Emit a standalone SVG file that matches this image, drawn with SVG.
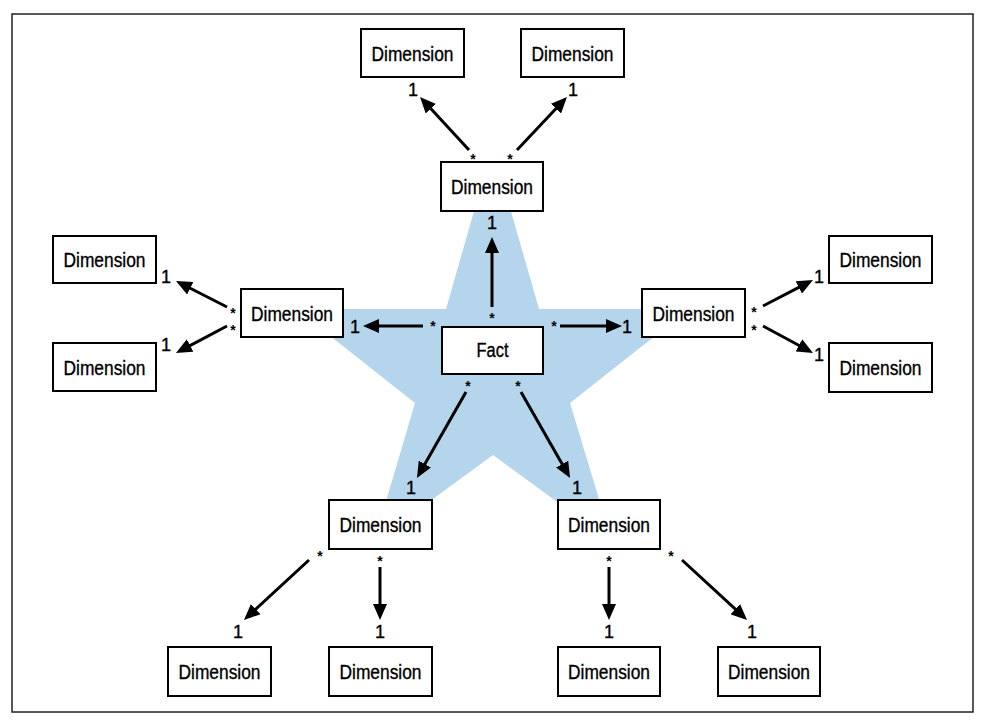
<svg xmlns="http://www.w3.org/2000/svg" width="984" height="725" viewBox="0 0 984 725">
<defs>
<style>
.box{fill:#fff;stroke:#000;stroke-width:2}
.lbl{font-family:"Liberation Sans",Arial,sans-serif;font-size:19.5px;fill:#000;stroke:#000;stroke-width:0.35;text-anchor:middle}
.one{font-family:"Liberation Sans",Arial,sans-serif;font-size:18px;fill:#000;stroke:#000;stroke-width:0.35;text-anchor:middle}
.star{font-family:"Liberation Sans",Arial,sans-serif;font-size:14px;font-weight:bold;fill:#000;text-anchor:middle}
.conn line{stroke:#000;stroke-width:3;marker-end:url(#ah)}
</style>
<marker id="ah" viewBox="0 0 16 14" refX="6" refY="7" markerWidth="16" markerHeight="14" markerUnits="userSpaceOnUse" orient="auto">
<path d="M0,0 L16,7 L0,14 z" fill="#000"/>
</marker>
</defs>
<rect x="0" y="0" width="984" height="725" fill="#fff"/>
<rect x="12" y="14" width="961" height="698" fill="none" stroke="#222" stroke-width="1.5"/>
<polygon id="starShape" points="487,166 498,166 539,309 689,309 570,403 612,542 493,455 374,542 415,403 296,309 446,309" fill="#b4d5ec"/>

<g id="connectors" class="conn">
<line x1="492" y1="307" x2="492" y2="247"/>
<line x1="423" y1="326" x2="373" y2="326"/>
<line x1="560" y1="326" x2="612" y2="326"/>
<line x1="466" y1="392" x2="421.9" y2="469.3"/>
<line x1="521" y1="392" x2="565.1" y2="469.3"/>
<line x1="469" y1="150" x2="426.8" y2="104.3"/>
<line x1="517" y1="150" x2="560.1" y2="104.3"/>
<line x1="227" y1="307" x2="184.9" y2="285.5"/>
<line x1="227" y1="326" x2="184.8" y2="348.3"/>
<line x1="763" y1="306" x2="804.1" y2="284.6"/>
<line x1="763" y1="326" x2="804.2" y2="348.2"/>
<line x1="309" y1="560" x2="251.3" y2="613.2"/>
<line x1="380" y1="567" x2="380" y2="610"/>
<line x1="609" y1="567" x2="609" y2="610"/>
<line x1="682" y1="560" x2="739.7" y2="613.2"/>
</g>

<g id="labels">
<text class="star" x="492" y="323">*</text>
<text class="one" x="492" y="229">1</text>
<text class="star" x="433" y="331">*</text>
<text class="one" x="355" y="333">1</text>
<text class="star" x="554" y="331">*</text>
<text class="one" x="627" y="333">1</text>
<text class="star" x="468" y="391">*</text>
<text class="one" x="411" y="494">1</text>
<text class="star" x="518" y="391">*</text>
<text class="one" x="577" y="494">1</text>
<text class="star" x="473" y="164">*</text>
<text class="one" x="413" y="96">1</text>
<text class="star" x="510" y="164">*</text>
<text class="one" x="573" y="96">1</text>
<text class="star" x="233" y="318">*</text>
<text class="one" x="166" y="283">1</text>
<text class="star" x="233" y="335">*</text>
<text class="one" x="166" y="351">1</text>
<text class="star" x="754" y="317">*</text>
<text class="one" x="819" y="283">1</text>
<text class="star" x="754" y="335">*</text>
<text class="one" x="819" y="361">1</text>
<text class="star" x="320" y="561">*</text>
<text class="one" x="238" y="638">1</text>
<text class="star" x="380" y="566">*</text>
<text class="one" x="380" y="638">1</text>
<text class="star" x="609" y="566">*</text>
<text class="one" x="609" y="638">1</text>
<text class="star" x="671" y="561">*</text>
<text class="one" x="752" y="638">1</text>
</g>

<g id="fact"><rect class="box" x="442" y="327" width="101" height="47"/><text class="lbl" x="492.5" y="357" textLength="32" lengthAdjust="spacingAndGlyphs">Fact</text></g>
<g id="dim-top"><rect class="box" x="441" y="162" width="102" height="49"/><text class="lbl" x="492" y="193.5" textLength="82" lengthAdjust="spacingAndGlyphs">Dimension</text></g>
<g id="dim-top-left"><rect class="box" x="361" y="29" width="103" height="48"/><text class="lbl" x="412.5" y="60.5" textLength="82" lengthAdjust="spacingAndGlyphs">Dimension</text></g>
<g id="dim-top-right"><rect class="box" x="521" y="29" width="103" height="48"/><text class="lbl" x="572.5" y="60.5" textLength="82" lengthAdjust="spacingAndGlyphs">Dimension</text></g>
<g id="dim-left"><rect class="box" x="241" y="289" width="102" height="48"/><text class="lbl" x="292" y="320.5" textLength="82" lengthAdjust="spacingAndGlyphs">Dimension</text></g>
<g id="dim-left-top"><rect class="box" x="53" y="236" width="103" height="47"/><text class="lbl" x="104.5" y="266.5" textLength="82" lengthAdjust="spacingAndGlyphs">Dimension</text></g>
<g id="dim-left-bottom"><rect class="box" x="53" y="343" width="103" height="48"/><text class="lbl" x="104.5" y="374.5" textLength="82" lengthAdjust="spacingAndGlyphs">Dimension</text></g>
<g id="dim-right"><rect class="box" x="642" y="289" width="103" height="48"/><text class="lbl" x="693.5" y="320.5" textLength="82" lengthAdjust="spacingAndGlyphs">Dimension</text></g>
<g id="dim-right-top"><rect class="box" x="829" y="236" width="103" height="47"/><text class="lbl" x="880.5" y="266.5" textLength="82" lengthAdjust="spacingAndGlyphs">Dimension</text></g>
<g id="dim-right-bottom"><rect class="box" x="829" y="343" width="103" height="49"/><text class="lbl" x="880.5" y="375" textLength="82" lengthAdjust="spacingAndGlyphs">Dimension</text></g>
<g id="dim-bottom-left"><rect class="box" x="329" y="500" width="103" height="49"/><text class="lbl" x="380.5" y="531.5" textLength="82" lengthAdjust="spacingAndGlyphs">Dimension</text></g>
<g id="dim-bottom-right"><rect class="box" x="558" y="500" width="102" height="49"/><text class="lbl" x="609" y="531.5" textLength="82" lengthAdjust="spacingAndGlyphs">Dimension</text></g>
<g id="dim-b1"><rect class="box" x="168" y="647" width="103" height="49"/><text class="lbl" x="219.5" y="678.5" textLength="82" lengthAdjust="spacingAndGlyphs">Dimension</text></g>
<g id="dim-b2"><rect class="box" x="329" y="647" width="103" height="49"/><text class="lbl" x="380.5" y="678.5" textLength="82" lengthAdjust="spacingAndGlyphs">Dimension</text></g>
<g id="dim-b3"><rect class="box" x="558" y="647" width="102" height="49"/><text class="lbl" x="609" y="678.5" textLength="82" lengthAdjust="spacingAndGlyphs">Dimension</text></g>
<g id="dim-b4"><rect class="box" x="718" y="647" width="102" height="49"/><text class="lbl" x="769" y="678.5" textLength="82" lengthAdjust="spacingAndGlyphs">Dimension</text></g>
</svg>
